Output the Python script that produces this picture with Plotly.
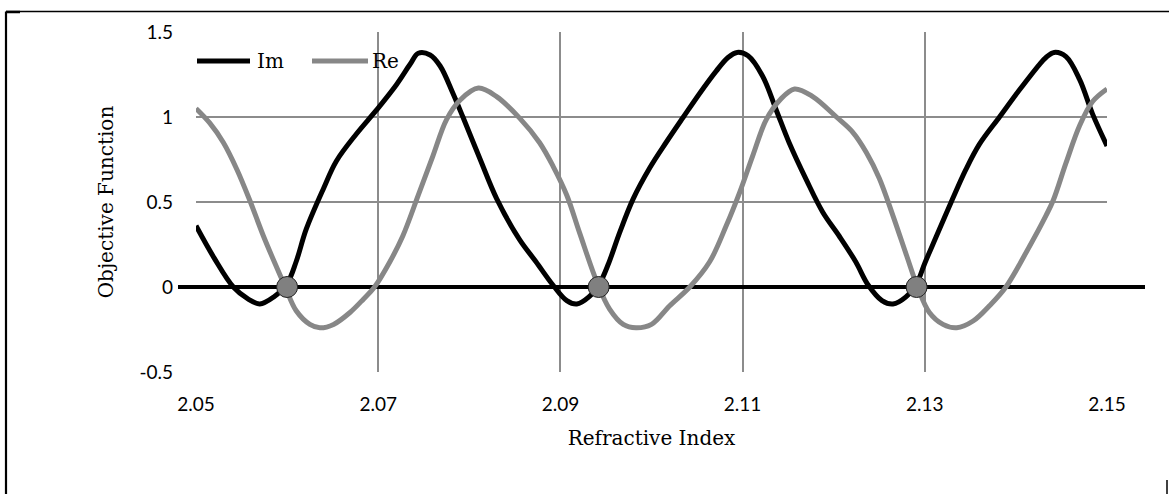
import plotly.graph_objects as go

# ---- data ----
im_x = [2.0500, 2.0520, 2.0541, 2.0557, 2.0570, 2.0585, 2.0600, 2.0610, 2.0621, 2.0640,
        2.0654, 2.0676, 2.0698, 2.0720, 2.0735, 2.0744, 2.0757, 2.0768, 2.0782, 2.0793,
        2.0812, 2.0830, 2.0855, 2.0873, 2.0892, 2.0907, 2.0918, 2.0931, 2.0943, 2.0953,
        2.0965, 2.0980, 2.0998, 2.1016, 2.1035, 2.1053, 2.1071, 2.1084, 2.1094, 2.1106,
        2.1122, 2.1137, 2.1151, 2.1170, 2.1188, 2.1206, 2.1224, 2.1238, 2.1253, 2.1265,
        2.1279, 2.1291, 2.1300, 2.1312, 2.1329, 2.1345, 2.1360, 2.1382, 2.1404, 2.1426,
        2.1433, 2.1442, 2.1455, 2.1470, 2.1484, 2.1500]
im_y = [0.36, 0.17, 0.00, -0.07, -0.10, -0.06, 0.02, 0.15, 0.34, 0.58,
        0.74, 0.90, 1.04, 1.19, 1.31, 1.375, 1.365, 1.30, 1.14, 1.00,
        0.75, 0.52, 0.28, 0.15, 0.01, -0.08, -0.10, -0.06, 0.02, 0.14,
        0.32, 0.52, 0.70, 0.85, 1.00, 1.14, 1.27, 1.35, 1.38, 1.36,
        1.24, 1.04, 0.85, 0.63, 0.44, 0.30, 0.15, 0.01, -0.08, -0.10,
        -0.06, 0.02, 0.14, 0.29, 0.50, 0.69, 0.84, 1.00, 1.16, 1.31,
        1.35, 1.38, 1.355, 1.22, 1.02, 0.83]

re_x = [2.0500, 2.0515, 2.0530, 2.0545, 2.0559, 2.0574, 2.0589, 2.0598, 2.0610, 2.0625,
        2.0636, 2.0651, 2.0669, 2.0684, 2.0696, 2.0713, 2.0727, 2.0744, 2.0760, 2.0775,
        2.0790, 2.0810, 2.0830, 2.0855, 2.0877, 2.0892, 2.0907, 2.0921, 2.0940, 2.0954,
        2.0969, 2.0983, 2.1000, 2.1020, 2.1042, 2.1064, 2.1082, 2.1097, 2.1111, 2.1126,
        2.1141, 2.1157, 2.1177, 2.1203, 2.1221, 2.1236, 2.1250, 2.1265, 2.1280, 2.1292,
        2.1305, 2.1320, 2.1335, 2.1353, 2.1371, 2.1389, 2.1415, 2.1433, 2.1441, 2.1455,
        2.1470, 2.1484, 2.1500]
re_y = [1.05, 0.965, 0.85, 0.69, 0.51, 0.30, 0.11, 0.00, -0.14, -0.22,
        -0.24, -0.22, -0.15, -0.07, 0.00, 0.15, 0.30, 0.54, 0.77, 0.985,
        1.10, 1.17, 1.12, 0.995, 0.85, 0.71, 0.54, 0.32, 0.03, -0.13,
        -0.22, -0.24, -0.22, -0.11, 0.00, 0.15, 0.36, 0.56, 0.77, 0.985,
        1.10, 1.165, 1.12, 1.00, 0.91, 0.79, 0.64, 0.42, 0.185, 0.00,
        -0.15, -0.22, -0.24, -0.20, -0.11, 0.00, 0.24, 0.42, 0.51, 0.73,
        0.95, 1.09, 1.165]

root_x = [2.0600, 2.0942, 2.1291]
root_y = [0.0, 0.0, 0.0]

series_names = ["Im", "Re"]
series_colors = ["#000000", "#878787"]

x_ticks = [2.05, 2.07, 2.09, 2.11, 2.13, 2.15]
x_tick_labels = ["2.05", "2.07", "2.09", "2.11", "2.13", "2.15"]
y_ticks = [-0.5, 0, 0.5, 1, 1.5]
y_tick_labels = ["-0.5", "0", "0.5", "1", "1.5"]

# ---- figure ----
W, H = 1169, 494
ML, MR, MT, MB = 196, 62, 32, 122
PW, PH = W - ML - MR, H - MT - MB


def px_x(px):
    return (px - ML) / PW


def px_y(py):
    return (H - MB - py) / PH


SERIF = "DejaVu Serif"
SANS = "Lato"
GRID = "#8c8c8c"

fig = go.Figure()
fig.add_trace(go.Scatter(x=im_x, y=im_y, mode="lines", name=series_names[0],
                         line=dict(color=series_colors[0], width=5, shape="spline", smoothing=1.0)))
fig.add_trace(go.Scatter(x=re_x, y=re_y, mode="lines", name=series_names[1],
                         line=dict(color=series_colors[1], width=5, shape="spline", smoothing=1.0)))
fig.add_trace(go.Scatter(x=root_x, y=root_y, mode="markers", showlegend=False,
                         marker=dict(size=21, color="#808080",
                                     line=dict(color="#222222", width=1))))

shapes = [
    # horizontal axis line through zero, extended beyond the plot area
    dict(type="line", xref="paper", yref="y", x0=px_x(178), x1=px_x(1145), y0=0, y1=0,
         line=dict(color="#000000", width=4), layer="below"),
    # page frame fragments
    dict(type="line", xref="paper", yref="paper", x0=px_x(6), x1=px_x(6),
         y0=px_y(11.5), y1=px_y(500), line=dict(color="#000000", width=2.2)),
    dict(type="line", xref="paper", yref="paper", x0=px_x(6), x1=px_x(1175),
         y0=px_y(11.5), y1=px_y(11.5), line=dict(color="#000000", width=1.5)),
    dict(type="line", xref="paper", yref="paper", x0=px_x(6), x1=px_x(20),
         y0=px_y(12), y1=px_y(12), line=dict(color="#000000", width=2.5)),
    dict(type="line", xref="paper", yref="paper", x0=px_x(1167), x1=px_x(1167),
         y0=px_y(480), y1=px_y(500), line=dict(color="#000000", width=1.5)),
]

# manual legend (line samples drawn under the curves, as in the reference)
legend_samples = [(197, 250, 256), (312, 368, 371)]
annotations = []
for (sx0, sx1, tx), name, col in zip(legend_samples, series_names, series_colors):
    shapes.append(dict(type="line", xref="paper", yref="paper", x0=px_x(sx0), x1=px_x(sx1),
                       y0=px_y(61), y1=px_y(61), line=dict(color=col, width=5), layer="between"))
    annotations.append(dict(text=name, xref="paper", yref="paper", x=px_x(tx), y=px_y(61),
                            xanchor="left", yanchor="middle", showarrow=False, borderpad=0,
                            font=dict(family=SERIF, size=20, color="#000")))

fig.update_layout(
    width=W, height=H,
    margin=dict(l=ML, r=MR, t=MT, b=MB, pad=0),
    paper_bgcolor="white", plot_bgcolor="rgba(0,0,0,0)",
    shapes=shapes, annotations=annotations,
    showlegend=False,
    xaxis=dict(range=[2.05, 2.15], tickvals=x_ticks, ticktext=x_tick_labels,
               showgrid=True, gridcolor=GRID, gridwidth=1.8, zeroline=False,
               showline=False, ticks="", ticklabelstandoff=19,
               tickfont=dict(family=SANS, size=19, color="#000"),
               title=dict(text="Refractive Index", standoff=16,
                          font=dict(family=SERIF, size=20, color="#000"))),
    yaxis=dict(range=[-0.5, 1.5], tickvals=y_ticks, ticktext=y_tick_labels,
               showgrid=True, gridcolor=GRID, gridwidth=1.8,
               zeroline=True, zerolinecolor="#000000", zerolinewidth=4,
               showline=False, ticks="", ticklabelstandoff=22,
               tickfont=dict(family=SANS, size=19, color="#000"),
               title=dict(text="Objective Function", standoff=20,
                          font=dict(family=SERIF, size=20, color="#000"))),
)

fig.write_html("out.html")
